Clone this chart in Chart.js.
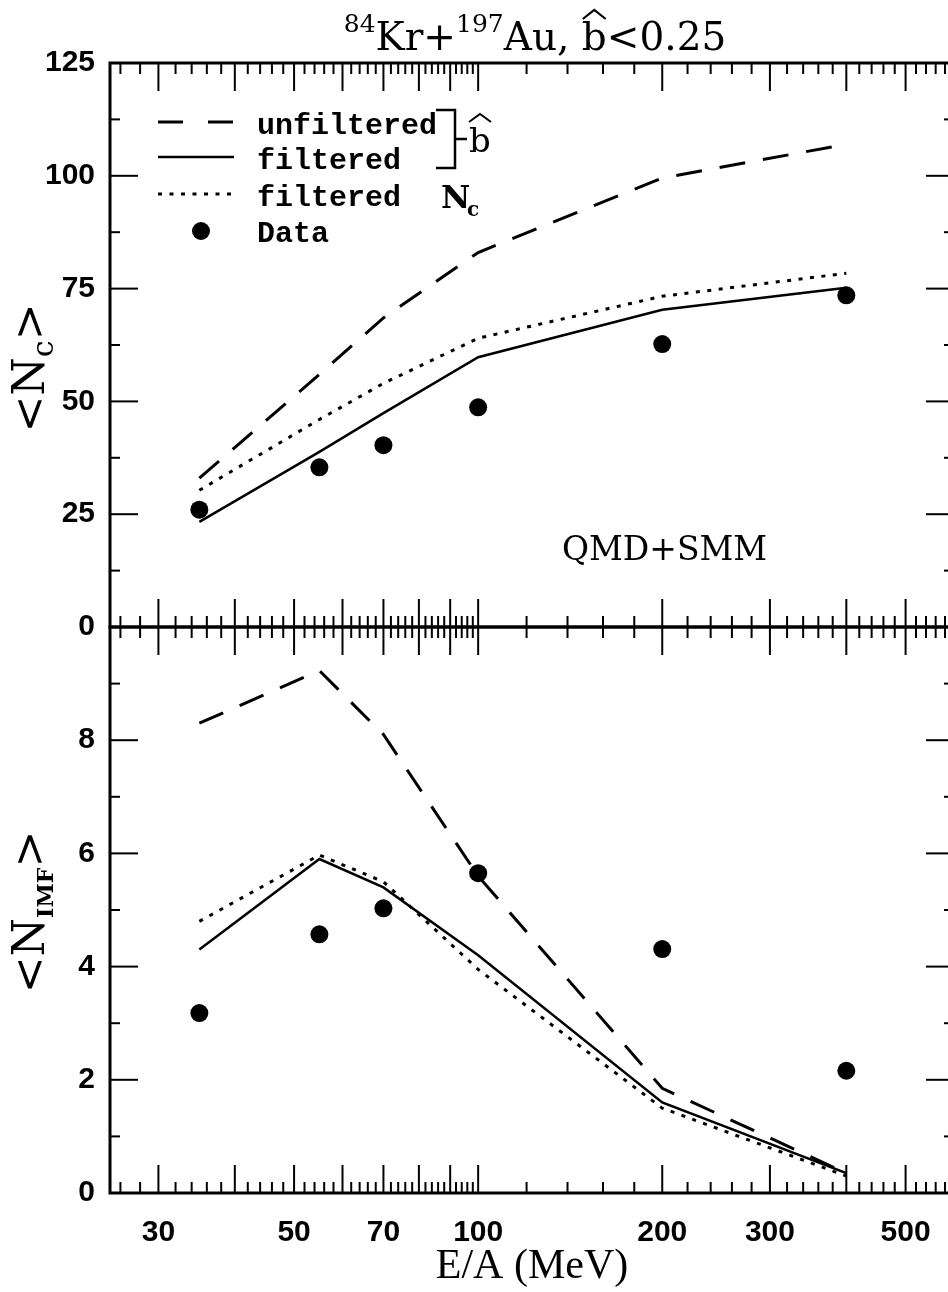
<!DOCTYPE html>
<html>
<head>
<meta charset="utf-8">
<title>Kr+Au QMD+SMM</title>
<script src="https://cdn.jsdelivr.net/npm/chart.js@4.4.1/dist/chart.umd.min.js"></script>
<style>
  html, body { margin: 0; padding: 0; background: #fff; overflow: hidden; }
  #wrap { position: relative; width: 948px; height: 1292px; overflow: hidden; }
  canvas { position: absolute; left: 0; }
  #top { top: 0; }
  #bottom { top: 600px; }
</style>
</head>
<body>
<div id="wrap">
  <canvas id="top" width="980" height="640"></canvas>
  <canvas id="bottom" width="980" height="692"></canvas>
</div>
<script>
// beam energies (MeV per nucleon)
const energy = [35, 55, 70, 100, 200, 400];

// <Nc>
const ncUnfiltered = [33, 56, 68.5, 83, 99.5, 107];
const ncFiltered = [23.3, 38.8, 47.4, 59.8, 70.3, 75.2];
const ncFilteredNc = [30.3, 46, 54, 64, 73.3, 78.4];
const ncData = [26, 35.4, 40.3, 48.7, 62.7, 73.5];

// <N_IMF>
const imfUnfiltered = [8.3, 9.23, 8.1, 5.6, 1.85, 0.35];
const imfFiltered = [4.3, 5.9, 5.4, 4.2, 1.6, 0.35];
const imfFilteredNc = [4.8, 5.97, 5.5, 3.95, 1.5, 0.3];
const imfData = [3.18, 4.57, 5.03, 5.65, 4.31, 2.16];

// axis ticks
const xLabels = [30, 50, 70, 100, 200, 300, 500];
const xMajor = [30, 40, 50, 60, 70, 80, 90, 100, 200, 300, 400, 500];
const xMinor = [];
for (let v = 26; v < 100; v += 2) if (v % 10) xMinor.push(v);
for (let v = 120; v < 600; v += 20) if (v % 100) xMinor.push(v);
const ncMajor = [0, 25, 50, 75, 100, 125];
const ncMinor = [12.5, 37.5, 62.5, 87.5, 112.5];
const imfMajor = [0, 2, 4, 6, 8, 10];
const imfMinor = [1, 3, 5, 7, 9];

const pts = ys => energy.map((e, i) => ({ x: e, y: ys[i] }));

function makeDatasets(unf, filt, filtNc, data) {
  return [
    { label: 'unfiltered', data: pts(unf), borderColor: '#000', borderWidth: 3,
      borderDash: [26, 18], pointRadius: 0, tension: 0 },
    { label: 'filtered', data: pts(filt), borderColor: '#000', borderWidth: 2.5,
      pointRadius: 0, tension: 0 },
    { label: 'filtered Nc', data: pts(filtNc), borderColor: '#000', borderWidth: 3,
      borderDash: [4, 7.5], pointRadius: 0, tension: 0 },
    { label: 'Data', data: pts(data), showLine: false, pointRadius: 9,
      pointBackgroundColor: '#000', pointBorderWidth: 0, borderColor: '#000' }
  ];
}

const tickFont = { family: 'Liberation Sans', size: 30, weight: 'bold' };

// no extra room for label overhang, the panels must butt together
const noPad = s => { s.paddingTop = 0; s.paddingBottom = 0; s.paddingLeft = 0; s.paddingRight = 0; };

// frame with inward tick marks on all sides
const framePlugin = {
  id: 'frame',
  afterDatasetsDraw(chart, args, o) {
    const { ctx, chartArea: a, scales: { x, y } } = chart;
    const seg = (x1, y1, x2, y2) => { ctx.beginPath(); ctx.moveTo(x1, y1); ctx.lineTo(x2, y2); ctx.stroke(); };
    ctx.save();
    ctx.strokeStyle = '#000';
    ctx.lineWidth = 2;
    xMajor.forEach(v => { const p = x.getPixelForValue(v); seg(p, a.top, p, a.top + 28); seg(p, a.bottom, p, a.bottom - 28); });
    xMinor.forEach(v => { const p = x.getPixelForValue(v); seg(p, a.top, p, a.top + 11); seg(p, a.bottom, p, a.bottom - 11); });
    o.yMajor.forEach(v => { const p = y.getPixelForValue(v); seg(a.left, p, a.left + 28, p); seg(a.right, p, a.right - 28, p); });
    o.yMinor.forEach(v => { const p = y.getPixelForValue(v); seg(a.left, p, a.left + 10, p); seg(a.right, p, a.right - 10, p); });
    ctx.lineWidth = 3;
    ctx.strokeRect(a.left, a.top, a.right - a.left, a.bottom - a.top);
    ctx.restore();
  }
};

function hat(ctx, x, w, yBase, h) {
  ctx.beginPath();
  ctx.moveTo(x, yBase);
  ctx.lineTo(x + w / 2, yBase - h);
  ctx.lineTo(x + w, yBase);
  ctx.stroke();
}

// rotated y-axis title "<N_sub>"
function yTitle(ctx, cx, cy, sub, subFont) {
  const big = '44px "DejaVu Serif"';
  ctx.save();
  ctx.translate(cx, cy);
  ctx.rotate(-Math.PI / 2);
  ctx.textBaseline = 'alphabetic';
  ctx.font = big;
  const w1 = ctx.measureText('<N').width;
  const w3 = ctx.measureText('>').width;
  ctx.font = subFont;
  const w2 = ctx.measureText(sub).width;
  let x = -(w1 + w2 + w3) / 2;
  const base = 16;
  ctx.font = big; ctx.fillText('<N', x, base); x += w1;
  ctx.font = subFont; ctx.fillText(sub, x, base + 9); x += w2;
  ctx.font = big; ctx.fillText('>', x, base);
  ctx.restore();
}

const topAnnotations = {
  id: 'topAnnotations',
  afterDraw(chart) {
    const ctx = chart.ctx;
    const ds = chart.data.datasets;
    ctx.save();
    ctx.fillStyle = '#000';
    ctx.strokeStyle = '#000';

    // title
    const big = '39px "DejaVu Serif"', small = '25px "DejaVu Serif"';
    const parts = [['84', small, -18], ['Kr+', big, 0], ['197', small, -18], ['Au, ', big, 0], ['b', big, 0], ['<0.25', big, 0]];
    let total = 0;
    parts.forEach(p => { ctx.font = p[1]; p.push(ctx.measureText(p[0]).width); total += p[3]; });
    let tx = 535 - total / 2;
    const tBase = 50;
    parts.forEach(p => {
      ctx.font = p[1];
      ctx.fillText(p[0], tx, tBase + p[2]);
      if (p[0] === 'b') { ctx.lineWidth = 2.2; hat(ctx, tx + 1, p[3] - 2, tBase - 31, 9); }
      tx += p[3];
    });

    // legend
    const lx1 = 158, lx2 = 234;
    const rows = [122, 157, 194];
    const dashes = [[25, 25], [], [4, 7.5]];
    rows.forEach((ry, i) => {
      ctx.lineWidth = ds[i].borderWidth;
      ctx.setLineDash(dashes[i]);
      ctx.beginPath(); ctx.moveTo(lx1, ry); ctx.lineTo(lx2, ry); ctx.stroke();
    });
    ctx.setLineDash([]);
    ctx.beginPath(); ctx.arc(201, 231, 9, 0, Math.PI * 2); ctx.fill();

    ctx.font = 'bold 30px "Liberation Mono"';
    ctx.fillText('unfiltered', 257, 134);
    ctx.fillText('filtered', 257, 169);
    ctx.fillText('filtered', 257, 206);
    ctx.fillText('Data', 257, 242);

    // bracket with b-hat
    ctx.lineWidth = 2.5;
    ctx.beginPath();
    ctx.moveTo(436, 110); ctx.lineTo(455, 110); ctx.lineTo(455, 168); ctx.lineTo(436, 168);
    ctx.moveTo(455, 139); ctx.lineTo(467, 139);
    ctx.stroke();
    ctx.font = '34px "DejaVu Serif"';
    ctx.fillText('b', 469, 152);
    ctx.lineWidth = 2;
    hat(ctx, 469, 22, 122, 8);

    // N_c label
    ctx.font = 'bold 32px "DejaVu Serif"';
    ctx.fillText('N', 441, 208);
    ctx.font = 'bold 20px "DejaVu Serif"';
    ctx.fillText('c', 467, 216);

    // model label
    ctx.font = '33px "DejaVu Serif"';
    ctx.fillText('QMD+SMM', 562, 560);

    yTitle(ctx, 28, 368, 'c', '30px "DejaVu Serif"');
    ctx.restore();
  }
};

const bottomAnnotations = {
  id: 'bottomAnnotations',
  afterDraw(chart) {
    const ctx = chart.ctx;
    ctx.save();
    ctx.fillStyle = '#000';
    yTitle(ctx, 28, 312, 'IMF', 'bold 22px "DejaVu Serif"');
    ctx.restore();
  }
};

const baseX = { type: 'logarithmic', min: 25, max: 600 };

new Chart(document.getElementById('top'), {
  type: 'line',
  data: { datasets: makeDatasets(ncUnfiltered, ncFiltered, ncFilteredNc, ncData) },
  options: {
    responsive: false,
    animation: false,
    devicePixelRatio: 1,
    layout: { padding: { top: 63, right: 26, bottom: 13, left: 0 } },
    scales: {
      x: Object.assign({}, baseX, { display: false }),
      y: {
        min: 0, max: 125,
        afterBuildTicks: s => { s.ticks = ncMajor.map(v => ({ value: v })); },
        ticks: { font: tickFont, color: '#000', padding: 15 },
        grid: { display: false, drawTicks: false },
        border: { display: false },
        afterFit: s => { s.width = 110; noPad(s); }
      }
    },
    plugins: {
      legend: { display: false },
      tooltip: { enabled: false },
      frame: { yMajor: ncMajor, yMinor: ncMinor }
    }
  },
  plugins: [framePlugin, topAnnotations]
});

new Chart(document.getElementById('bottom'), {
  type: 'line',
  data: { datasets: makeDatasets(imfUnfiltered, imfFiltered, imfFilteredNc, imfData) },
  options: {
    responsive: false,
    animation: false,
    devicePixelRatio: 1,
    layout: { padding: { top: 27, right: 26, bottom: 0, left: 0 } },
    scales: {
      x: Object.assign({}, baseX, {
        afterBuildTicks: s => { s.ticks = xLabels.map(v => ({ value: v })); },
        ticks: { font: tickFont, color: '#000', padding: 22, autoSkip: false, maxRotation: 0,
                 callback: v => String(v) },
        grid: { display: false, drawTicks: false },
        border: { display: false },
        title: { display: true, text: 'E/A (MeV)', color: '#000',
                 font: { family: 'Liberation Serif', size: 42 }, padding: { top: 0, bottom: 0 } },
        afterFit: s => { s.height = 99; noPad(s); }
      }),
      y: {
        min: 0, max: 10,
        afterBuildTicks: s => { s.ticks = imfMajor.map(v => ({ value: v })); },
        ticks: { font: tickFont, color: '#000', padding: 15, callback: v => (v === 10 ? '' : String(v)) },
        grid: { display: false, drawTicks: false },
        border: { display: false },
        afterFit: s => { s.width = 110; noPad(s); }
      }
    },
    plugins: {
      legend: { display: false },
      tooltip: { enabled: false },
      frame: { yMajor: imfMajor, yMinor: imfMinor }
    }
  },
  plugins: [framePlugin, bottomAnnotations]
});
</script>
</body>
</html>
